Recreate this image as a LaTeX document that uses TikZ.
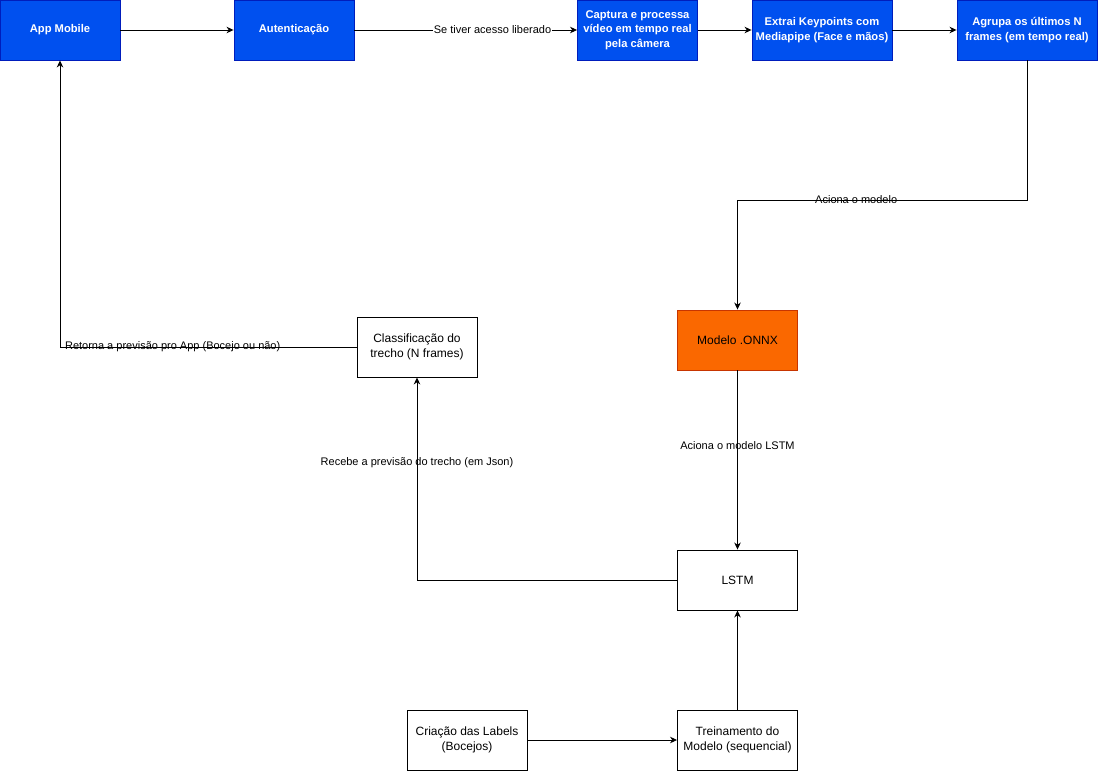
\documentclass[tikz,border=0pt]{standalone}
\usepackage{fontspec}
\setmainfont{Liberation Sans}
\usetikzlibrary{arrows.meta}
\definecolor{boxblue}{HTML}{0050EF}
\definecolor{boxblueline}{HTML}{001DBC}
\definecolor{boxorange}{HTML}{FA6800}
\definecolor{boxorangeline}{HTML}{C73500}
\begin{document}
\begin{tikzpicture}[x=1pt,y=-1pt,
  basebox/.style={rectangle, minimum width=120pt, minimum height=60pt, inner sep=0pt,
    align=center, line width=0.9pt, font=\fontsize{12}{14.5}\selectfont},
  bluebox/.style={basebox, fill=boxblue, draw=boxblueline, text=white,
    font=\fontsize{11.2}{14.5}\selectfont\bfseries},
  orangebox/.style={basebox, fill=boxorange, draw=boxorangeline, text=black},
  plainbox/.style={basebox, fill=white, draw=black},
  arr/.style={draw=black, line width=0.9pt, -{Stealth[length=7pt,width=6.5pt,inset=2.2pt]}},
  lbl/.style={font=\fontsize{11}{13}\selectfont, inner sep=1pt, text=black}]
\useasboundingbox (0,0) rectangle (1098,771);

% top row
\node[bluebox] (app) at (60,30) {App Mobile};
\node[bluebox] (auth) at (294,30) {Autenticação};
\node[bluebox] (cap) at (637.5,30) {Captura e processa\\vídeo em tempo real\\pela câmera};
\node[bluebox, minimum width=140pt] (ext) at (822,30) {Extrai Keypoints com\\Mediapipe (Face e mãos)};
\node[bluebox, minimum width=140pt] (agr) at (1027,30) {Agrupa os últimos N\\frames (em tempo real)};

% model and classification
\node[orangebox] (onnx) at (737.5,340) {Modelo .ONNX};
\node[plainbox] (cls) at (417,347) {Classificação do\\trecho (N frames)};
\node[plainbox] (lstm) at (737.5,580) {LSTM};

% training
\node[plainbox] (tre) at (737.5,740) {Treinamento do\\Modelo (sequencial)};
\node[plainbox] (lab) at (467,740) {Criação das Labels\\(Bocejos)};

\coordinate (k1) at (1027,200);

% connectors
\draw[arr] (app) -- (auth);
\draw[arr] (auth) -- node[lbl, fill=white, pos=0.62] {Se tiver acesso liberado} (cap);
\draw[arr] (cap) -- (ext);
\draw[arr] (ext) -- (agr);
\draw[arr] (agr.south) -- (k1) -| node[lbl, pos=0.295] {Aciona o modelo} (onnx.north);
\draw[arr] (onnx) -- node[lbl, pos=0.42] {Aciona o modelo LSTM} (lstm);
\draw[arr] (lstm.west) -| node[lbl, pos=0.79] {Recebe a previsão do trecho (em Json)} (cls.south);
\draw[arr] (cls.west) -| node[lbl, pos=0.31] {Retorna a previsão pro App (Bocejo ou não)} (app.south);
\draw[arr] (lab) -- (tre);
\draw[arr] (tre) -- (lstm);
\end{tikzpicture}
\end{document}
